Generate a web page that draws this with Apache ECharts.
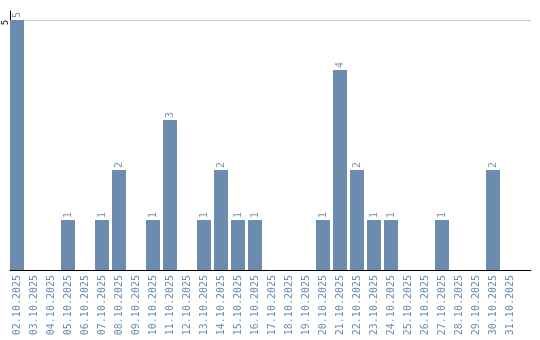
<!DOCTYPE html>
<html><head><meta charset="utf-8">
<script src="https://cdn.jsdelivr.net/npm/echarts@6/dist/echarts.min.js"></script>
<style>html,body{margin:0;padding:0;background:#fff}#c{width:540px;height:340px}</style>
</head><body><div id="c"></div>
<script>
const categories = ['02.10.2025','03.10.2025','04.10.2025','05.10.2025','06.10.2025','07.10.2025','08.10.2025','09.10.2025','10.10.2025','11.10.2025','12.10.2025','13.10.2025','14.10.2025','15.10.2025','16.10.2025','17.10.2025','18.10.2025','19.10.2025','20.10.2025','21.10.2025','22.10.2025','23.10.2025','24.10.2025','25.10.2025','26.10.2025','27.10.2025','28.10.2025','29.10.2025','30.10.2025','31.10.2025'];
const counts = [5,0,0,1,0,1,2,0,1,3,0,1,2,1,1,0,0,0,1,4,2,1,1,0,0,1,0,0,2,0];
const yTicks = [5];

const barColor = '#6b8cae';
const chart = echarts.init(document.getElementById('c'), null, {renderer:'canvas'});
chart.setOption({
  animation: false,
  grid: [
    {left: 10, right: 9, top: 11, bottom: 70, containLabel: false},
    {left: 8.5, width: 510, top: 11, bottom: 70, containLabel: false}
  ],
  xAxis: [
    {gridIndex: 0, type: 'value', min: 0, max: 1, axisLine: {show: true, onZero: false, lineStyle: {color: '#000', width: 1}}, axisTick: {show: false}, axisLabel: {show: false}, splitLine: {show: false}},
    {gridIndex: 1, type: 'category', data: categories, boundaryGap: true,
     axisLine: {show: false}, axisTick: {show: false},
     axisLabel: {rotate: 90, interval: 0, margin: 5, color: barColor, fontFamily: 'DejaVu Sans Mono', fontSize: 10}}
  ],
  yAxis: [
    {gridIndex: 0, type: 'value', min: 0, max: 5.18,
     axisLine: {show: true, lineStyle: {color: '#000', width: 1}}, axisTick: {show: false, customValues: yTicks},
     axisLabel: {customValues: yTicks, rotate: 90, margin: 0, align: 'right', verticalAlign: 'bottom', color: '#000', fontSize: 8, fontFamily: 'DejaVu Sans'},
     splitLine: {show: true, lineStyle: {color: '#c8c8c8', width: 1}}},
    {gridIndex: 1, type: 'value', min: 0, max: 5.18, show: false}
  ],
  series: [{
    type: 'bar', xAxisIndex: 1, yAxisIndex: 1, data: counts, barWidth: 14,
    itemStyle: {color: barColor},
    label: {show: true, position: 'top', rotate: 90, align: 'left', verticalAlign: 'middle', distance: 2,
      color: '#7893b3', fontSize: 10, fontFamily: 'DejaVu Sans Mono',
      formatter: p => p.value > 0 ? String(p.value) : ''}
  }]
});
</script></body></html>
